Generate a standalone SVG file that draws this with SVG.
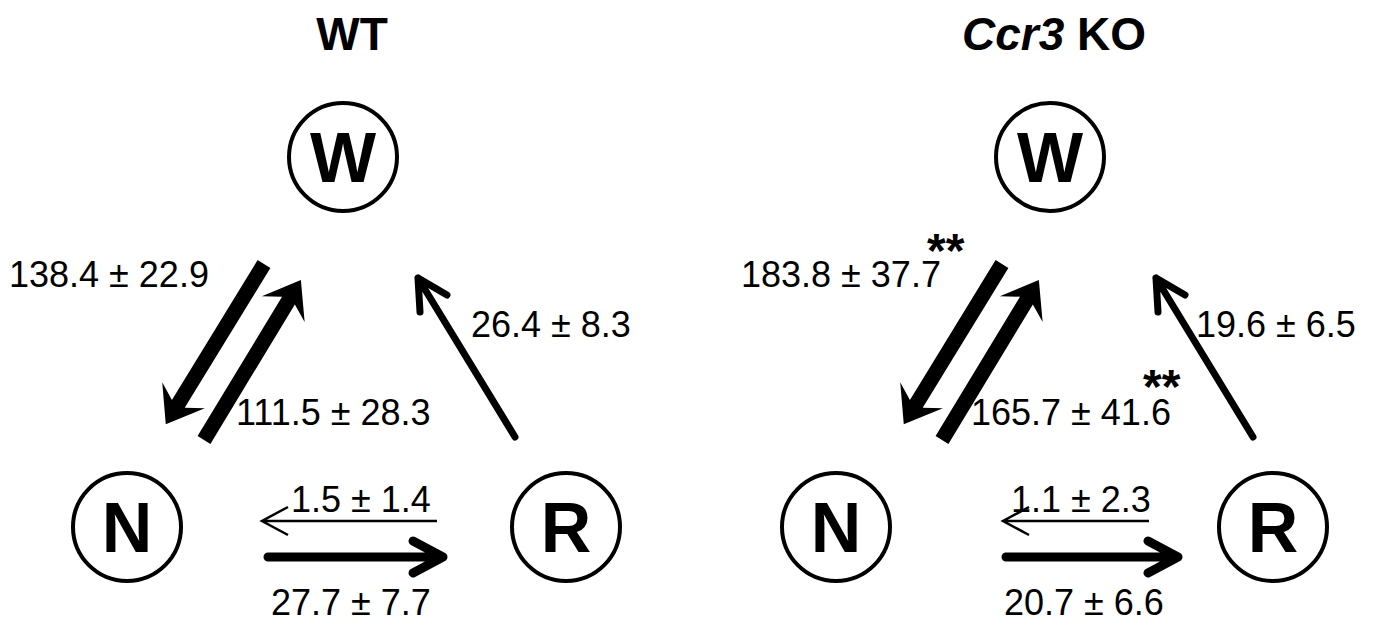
<svg xmlns="http://www.w3.org/2000/svg" width="1380" height="623" viewBox="0 0 1380 623">
<style>
.node circle{fill:#fff;stroke:#000;stroke-width:4}
.node text{font-family:"Liberation Sans",Arial,sans-serif;font-weight:bold;font-size:70px;text-anchor:middle;fill:#000}
.lbl{font-family:"Liberation Sans",Arial,sans-serif;font-size:36px;fill:#000}
.star{font-family:"Liberation Sans",Arial,sans-serif;font-size:48px;font-weight:bold;fill:#000}
.title{font-family:"Liberation Sans",Arial,sans-serif;font-size:46px;font-weight:bold;text-anchor:middle;fill:#000}
.thick{fill:#000}
.med{fill:none;stroke:#000;stroke-width:7;stroke-linecap:round;stroke-linejoin:round}
.hz{fill:none;stroke:#000;stroke-width:9;stroke-linecap:round;stroke-linejoin:round}
.thin{fill:none;stroke:#000;stroke-width:2.5;stroke-linecap:butt}
</style>
<rect width="1380" height="623" fill="#fff"/>
<text class="title" x="352" y="50">WT</text>
<text class="title" x="1054" y="50"><tspan font-style="italic">Ccr3</tspan> KO</text>

<g id="wt-W" class="node"><circle cx="343" cy="157" r="54"/><text x="343" y="182">W</text></g>
<g id="wt-N" class="node"><circle cx="127" cy="527" r="54"/><text x="127" y="552">N</text></g>
<g id="wt-R" class="node"><circle cx="566" cy="527" r="54"/><text x="566" y="552">R</text></g>
<g id="ko-W" class="node"><circle cx="1050" cy="157" r="54"/><text x="1050" y="182">W</text></g>
<g id="ko-N" class="node"><circle cx="836" cy="527" r="54"/><text x="836" y="552">N</text></g>
<g id="ko-R" class="node"><circle cx="1273" cy="527" r="54"/><text x="1273" y="552">R</text></g>

<g id="connectors">
  <polygon class="thick" transform="translate(264,264) rotate(121.5)" points="0,-7.5 164,-7.5 154,-25 188,0 154,25 164,7.5 0,7.5"/>
  <polygon class="thick" transform="translate(204,440) rotate(-58.8)" points="0,-7.5 163,-7.5 153,-25 187,0 153,25 163,7.5 0,7.5"/>
  <path class="med" d="M515,437 L418,278 M420,312 L418,278 L447,295"/>
  <path class="hz" d="M268,557 L443,557 M413,541 L443,557 L413,573"/>
  <path class="thin" d="M437,521 L262,521 M288,507 L262,521 L288,535"/>

  <polygon class="thick" transform="translate(1002,264) rotate(121.5)" points="0,-7.5 164,-7.5 154,-25 188,0 154,25 164,7.5 0,7.5"/>
  <polygon class="thick" transform="translate(942,440) rotate(-58.8)" points="0,-7.5 163,-7.5 153,-25 187,0 153,25 163,7.5 0,7.5"/>
  <path class="med" d="M1253,437 L1156,278 M1158,312 L1156,278 L1185,295"/>
  <path class="hz" d="M1006,557 L1178,557 M1148,541 L1178,557 L1148,573"/>
  <path class="thin" d="M1149,521 L1003,521 M1029,507 L1003,521 L1029,535"/>
</g>

<g id="labels">
  <text class="lbl" x="9" y="287">138.4 ± 22.9</text>
  <text class="lbl" x="236" y="425">111.5 ± 28.3</text>
  <text class="lbl" x="471" y="337">26.4 ± 8.3</text>
  <text class="lbl" x="291" y="512">1.5 ± 1.4</text>
  <text class="lbl" x="271" y="615">27.7 ± 7.7</text>
  <text class="lbl" x="741" y="287">183.8 ± 37.7</text>
  <text class="lbl" x="971" y="425">165.7 ± 41.6</text>
  <text class="lbl" x="1196" y="337">19.6 ± 6.5</text>
  <text class="lbl" x="1011" y="512">1.1 ± 2.3</text>
  <text class="lbl" x="1004" y="615">20.7 ± 6.6</text>
  <text class="star" x="927" y="267">**</text>
  <text class="star" x="1143" y="403">**</text>
</g>
</svg>
